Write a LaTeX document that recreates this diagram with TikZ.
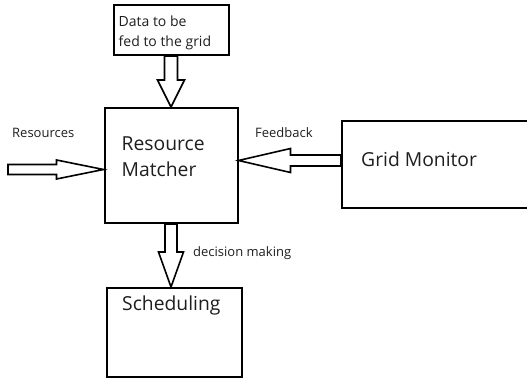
\documentclass[tikz,border=0pt]{standalone}
\usepackage{fontspec}
\setmainfont{Open Sans}
\usetikzlibrary{calc,positioning}
\definecolor{labelgray}{HTML}{1E1E1E}

% hollow block arrow: #1 tail, #2 tip, #3 half shaft, #4 half head, #5 head length
\newcommand{\blockarrow}[5]{%
  \coordinate (ba-base) at ($(#2)!#5!(#1)$);
  \draw[flow] ($(#1)!#3!90:(#2)$) -- ($(ba-base)!#3!90:(#2)$) -- ($(ba-base)!#4!90:(#2)$) -- (#2)
    -- ($(ba-base)!#4!-90:(#2)$) -- ($(ba-base)!#3!-90:(#2)$) -- ($(#1)!#3!-90:(#2)$) -- cycle;
}

\begin{document}
\begin{tikzpicture}[x=1pt, y=-1pt,
  box/.style={draw, line width=2pt, inner sep=0pt},
  flow/.style={draw, fill=white, line width=1.6pt, line join=miter},
  bigtext/.style={inner sep=0pt, text=labelgray, align=left, font=\fontsize{19.3}{26}\selectfont},
  datatext/.style={inner sep=0pt, text=labelgray, align=left, font=\fontsize{14}{20}\selectfont},
  smalltext/.style={inner sep=0pt, text=labelgray, font=\fontsize{13}{16}\selectfont}]

  \clip (0,0) rectangle (527,379);

  % Boxes
  \node[box, minimum width=115pt, minimum height=50pt] (data) at (171,30) {};
  \node[box, minimum width=133pt, minimum height=115pt] (matcher) at (171,165.5) {};
  \node[box, minimum width=135pt, minimum height=89pt] (sched) at (174.5,332.5) {};
  \node[box, minimum width=198pt, minimum height=87pt] (grid) at (441,164.5) {};

  % Box texts
  \node[datatext, below right=12pt and 6pt of data.north west] (datatxt) {Data to be\\fed to the grid};
  \node[bigtext, below right=30pt and 18pt of matcher.north west] (matchertxt) {Resource\\Matcher};
  \node[bigtext, below right=9pt and 16pt of sched.north west] (schedtxt) {Scheduling};
  \node[bigtext, below right=32pt and 20pt of grid.north west] (gridtxt) {Grid Monitor};

  % Connector end points
  \coordinate (resout) at (8,169.5);
  \coordinate (resin) at ($(matcher.west)+(0,4)$);
  \coordinate (fbout) at ($(grid.west)+(0,-4)$);
  \coordinate (fbin) at (fbout -| matcher.east);
  \coordinate (schedin) at (matcher.south |- sched.north);

  % Block arrows
  \blockarrow{data.south}{matcher.north}{6.5pt}{13.5pt}{27pt}
  \blockarrow{matcher.south}{schedin}{6pt}{12.5pt}{35pt}
  \blockarrow{resout}{resin}{5pt}{9.5pt}{47pt}
  \blockarrow{fbout}{fbin}{5.5pt}{12pt}{52pt}

  % Arrow labels
  \node[smalltext, anchor=base west] (reslabel) at (12,138) {Resources};
  \node[smalltext, anchor=base west] (fblabel) at (255,138) {Feedback};
  \node[smalltext, anchor=base west] (declabel) at (193,257) {decision making};

\end{tikzpicture}
\end{document}
